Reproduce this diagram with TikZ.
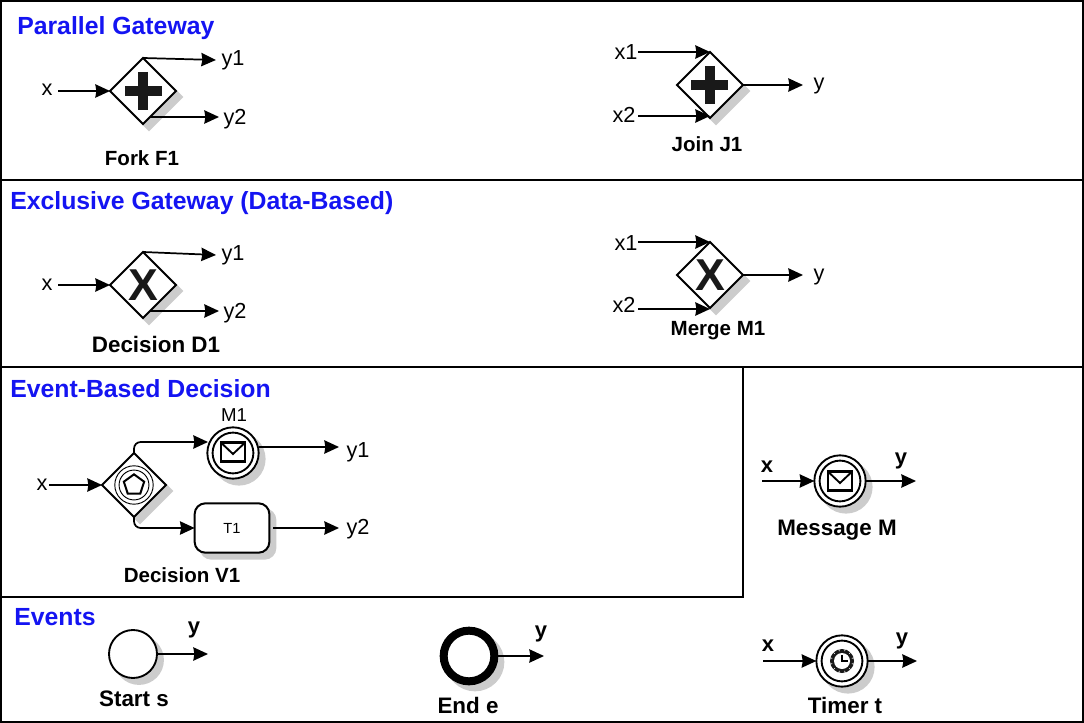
\documentclass[tikz,border=0pt]{standalone}
\usepackage{fontspec}
\setmainfont{Liberation Sans}
\usetikzlibrary{shapes.geometric, arrows.meta}
\definecolor{shadowgray}{gray}{0.8}
\definecolor{titleblue}{rgb}{0.08,0.08,0.95}
\tikzstyle{title} = [anchor=base west, inner sep=0pt, text=titleblue, font=\fontsize{18.6}{20}\selectfont\bfseries]
\tikzstyle{caption} = [anchor=base, inner sep=0pt, font=\fontsize{15.4}{18}\selectfont\bfseries]
\tikzstyle{bigcaption} = [anchor=base, inner sep=0pt, font=\fontsize{16.8}{18}\selectfont\bfseries]
\tikzstyle{flow} = [anchor=base, inner sep=0pt, font=\fontsize{16.3}{18}\selectfont]
\tikzstyle{boldflow} = [anchor=base, inner sep=0pt, font=\fontsize{16.5}{18}\selectfont\bfseries]
\tikzstyle{shade} = [preaction={draw=shadowgray, fill=shadowgray, transform canvas={shift={(4.5pt,-4.5pt)}}}]
\tikzstyle{gateway} = [diamond, draw=black, line width=1.5pt, fill=white, inner sep=0pt, outer sep=0pt, minimum width=49.5pt, minimum height=49.5pt, shade]
\tikzstyle{startevent} = [circle, draw=black, line width=1.4pt, fill=white, inner sep=0pt, outer sep=0pt, minimum size=36pt, shade]
\tikzstyle{endevent} = [startevent, line width=6pt, minimum size=38pt]
\tikzstyle{catchevent} = [startevent, minimum size=38.5pt, path picture={\draw [line width=1.4pt] (path picture bounding box.center) circle (15.3pt);}]
\tikzstyle{task} = [rectangle, rounded corners=8pt, draw=black, line width=1.5pt, fill=white, inner sep=0pt, outer sep=0pt, minimum width=56pt, minimum height=37pt, font=\fontsize{11}{13}\selectfont, shade]
\tikzstyle{arrow} = [line width=1.3pt, -{Stealth[length=11pt, width=10pt, inset=0.8pt]}]
\tikzstyle{plusmark} = [line width=7pt, color=black!90]
\tikzstyle{xmark} = [inner sep=0pt, font=\fontsize{33.5}{34}\selectfont\bfseries, text=black!90]
\tikzset{
	envelope/.pic={
		\draw [line width=1.8pt, line join=miter] (-9.2pt,-7.2pt) rectangle (9.2pt,7.2pt);
		\draw [line width=1.4pt] (-9.2pt,7.2pt) -- (0pt,-1.5pt) -- (9.2pt,7.2pt);
	},
	clockface/.pic={
		\fill [black!90] (0,0) circle (9pt);
		\fill [white] (0,0) circle (6pt);
		\foreach \a in {15,45,...,345}
			\draw [white, line width=0.5pt] (\a:7.6pt) -- (\a:9.2pt);
		\draw [line width=1.5pt] (0pt,4.6pt) -- (0pt,0pt) -- (4.2pt,0pt);
	}
}

\begin{document}
\begin{tikzpicture}[x=0.75pt, y=-0.75pt]
		\useasboundingbox (0,0) rectangle (1084,723);
		% frames
		\draw [line width=1.5pt] (1,1) rectangle (1083,722);
		\draw [line width=1.5pt] (1,180) -- (1083,180);
		\draw [line width=1.5pt] (1,367) -- (1083,367);
		\draw [line width=1.5pt] (743,367) -- (743,597) -- (1,597);

		\node (tpar) [title] at (17,35) {Parallel Gateway};
		\node (texc) [title] at (10,210) {Exclusive Gateway (Data-Based)};
		\node (tevb) [title] at (10,397) {Event-Based Decision};
		\node (tevt) [title] at (14,625) {Events};

		% fork and join
		\node (fork) [gateway] at (143,91) {};
		\draw [plusmark] (125,91) -- (162,91);
		\draw [plusmark] (143,72) -- (143,110);
		\node (forkx) [flow] at (47,96) {x};
		\node (forky1) [flow] at (233,66) {y1};
		\node (forky2) [flow] at (235,124.5) {y2};
		\node (forkl) [caption] at (142,166) {Fork F1};
		\coordinate (forkin) at (58,91);
		\coordinate (forkout1) at (216,60);
		\coordinate (forksrc2) at (150,117);
		\coordinate (forkout2) at (219,117);
		\draw [arrow] (forkin) -- (fork.west);
		\draw [arrow] (fork.north) -- (forkout1);
		\draw [arrow] (forksrc2) -- (forkout2);

		\node (join) [gateway] at (710,85) {};
		\draw [plusmark] (691,85) -- (728,85);
		\draw [plusmark] (710,66) -- (710,104);
		\node (joinx1) [flow] at (626,60) {x1};
		\node (joinx2) [flow] at (624,123) {x2};
		\node (joiny) [flow] at (819,90) {y};
		\node (joinl) [caption] at (707,152) {Join J1};
		\coordinate (joinin1) at (638,52);
		\coordinate (joinin2) at (638,116);
		\coordinate (joinend2) at (710,116);
		\coordinate (joinout) at (803,85);
		\draw [arrow] (joinin1) -- (join.north);
		\draw [arrow] (joinin2) -- (joinend2);
		\draw [arrow] (join.east) -- (joinout);

		% decision and merge
		\node (dec) [gateway] at (143,285) {};
		\node (decm) [xmark] at (143,285) {X};
		\node (decx) [flow] at (47,291) {x};
		\node (decy1) [flow] at (233,261) {y1};
		\node (decy2) [flow] at (235,319) {y2};
		\node (decl) [bigcaption] at (156,352) {Decision D1};
		\coordinate (decin) at (58,285);
		\coordinate (decout1) at (216,255);
		\coordinate (decsrc2) at (150,311);
		\coordinate (decout2) at (219,311);
		\draw [arrow] (decin) -- (dec.west);
		\draw [arrow] (dec.north) -- (decout1);
		\draw [arrow] (decsrc2) -- (decout2);

		\node (mrg) [gateway] at (710,275) {};
		\node (mrgm) [xmark] at (710,275) {X};
		\node (mrgx1) [flow] at (626,251) {x1};
		\node (mrgx2) [flow] at (624,313) {x2};
		\node (mrgy) [flow] at (819,281) {y};
		\node (mrgl) [caption] at (718,335) {Merge M1};
		\coordinate (mrgin1) at (638,242);
		\coordinate (mrgin2) at (638,309);
		\coordinate (mrgend2) at (710,309);
		\coordinate (mrgout) at (803,275);
		\draw [arrow] (mrgin1) -- (mrg.north);
		\draw [arrow] (mrgin2) -- (mrgend2);
		\draw [arrow] (mrg.east) -- (mrgout);

		% event-based decision
		\node (ebd) [gateway, minimum width=48pt, minimum height=48pt] at (134,485) {};
		\draw [line width=0.7pt] (ebd.center) circle (14.4pt);
		\draw [line width=0.7pt] (ebd.center) circle (11.2pt);
		\node (ebdp) [regular polygon, regular polygon sides=5, draw=black, line width=1.5pt, inner sep=0pt, minimum size=16pt] at (134,485) {};
		\node (ebdx) [flow] at (42,490) {x};
		\node (m1) [catchevent] at (233,453) {};
		\pic at (233,452) {envelope};
		\node (m1l) [flow, font=\fontsize{14}{16}\selectfont] at (234,421) {M1};
		\node (t1) [task] at (232,528) {T1};
		\node (ebdy1) [flow] at (358,457) {y1};
		\node (ebdy2) [flow] at (358,534) {y2};
		\node (ebdl) [caption] at (182,582) {Decision V1};
		\coordinate (ebdin) at (49,485);
		\coordinate (m1in) at (208,442);
		\coordinate (m1src) at (259,447);
		\coordinate (m1out) at (339,447);
		\coordinate (t1out) at (339,528);
		\coordinate (t1src) at (273,528);
		\draw [arrow] (ebdin) -- (ebd.west);
		\draw [arrow, rounded corners=5pt] (ebd.north) |- (m1in);
		\draw [arrow, rounded corners=5pt] (ebd.south) |- (t1.west);
		\draw [arrow] (m1src) -- (m1out);
		\draw [arrow] (t1src) -- (t1out);

		% message
		\node (msg) [catchevent] at (840,481) {};
		\pic at (840,481) {envelope};
		\node (msgx) [boldflow] at (767,472) {x};
		\node (msgy) [boldflow] at (901,464) {y};
		\node (msgl) [bigcaption] at (837,535) {Message M};
		\coordinate (msgin) at (762,481);
		\coordinate (msgout) at (916,481);
		\draw [arrow] (msgin) -- (msg.west);
		\draw [arrow] (msg.east) -- (msgout);

		% start, end, timer
		\node (st) [startevent] at (133,654) {};
		\node (sty) [boldflow] at (194,633) {y};
		\node (stl) [bigcaption] at (134,706) {Start s};
		\coordinate (stout) at (208,654);
		\draw [arrow] (st.east) -- (stout);

		\node (en) [endevent] at (469,656) {};
		\node (eny) [boldflow] at (541,637) {y};
		\node (enl) [bigcaption] at (468,713) {End e};
		\coordinate (enout) at (544,656);
		\draw [arrow] (en.east) -- (enout);

		\node (tm) [catchevent] at (842,661) {};
		\pic at (842,661) {clockface};
		\node (tmx) [boldflow] at (768,651) {x};
		\node (tmy) [boldflow] at (902,644) {y};
		\node (tml) [bigcaption] at (845,713) {Timer t};
		\coordinate (tmin) at (763,661);
		\coordinate (tmout) at (917,661);
		\draw [arrow] (tmin) -- (tm.west);
		\draw [arrow] (tm.east) -- (tmout);
\end{tikzpicture}
\end{document}
